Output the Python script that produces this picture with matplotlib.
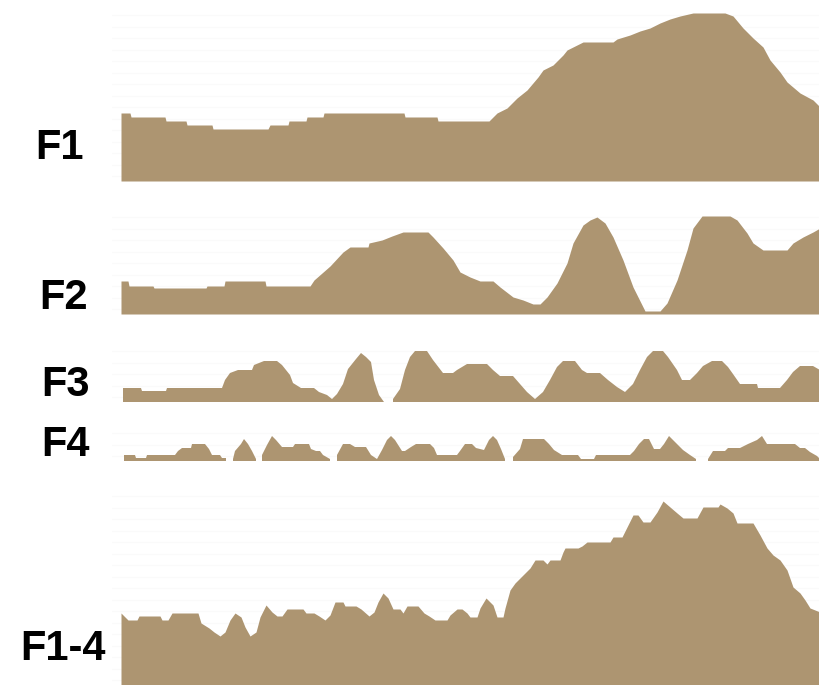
import numpy as np
import matplotlib
matplotlib.use("Agg")
import matplotlib.pyplot as plt

FILL = "#ad9571"

# position along the track (1..700) and profile height for each component
f1_pos = [1, 10, 11, 45, 46, 66, 67, 92, 93, 148, 150, 168, 169, 186, 187, 203, 204, 284,
          285, 317, 318, 369, 377, 387, 397, 407, 418, 423, 433, 443, 447, 457, 463, 493,
          497, 510, 520, 530, 540, 550, 560, 573, 605, 613, 623, 633, 643, 650, 660, 667,
          680, 693, 700]
f1_val = [68, 68, 64, 64, 60, 60, 56, 56, 52, 52, 56, 56, 60, 60, 64, 64, 68, 68,
          64, 64, 60, 60, 68, 73, 83, 91, 104, 111, 116, 126, 131, 136, 139, 139,
          142, 146, 150, 153, 158, 162, 165, 168, 168, 165, 153, 143, 134, 121, 109, 99,
          88, 81, 74]

f2_pos = [1, 8, 9, 33, 34, 86, 87, 104, 105, 145, 146, 190, 194, 202, 210, 223, 230, 248,
          249, 262, 272, 283, 308, 313, 323, 333, 340, 350, 360, 373, 380, 393, 403, 413,
          420, 427, 437, 447, 453, 463, 470, 477, 485, 493, 503, 513, 525, 540, 547, 557,
          567, 573, 582, 610, 617, 627, 633, 643, 667, 673, 683, 693, 700]
f2_val = [33, 33, 28, 28, 26, 26, 28, 28, 33, 33, 28, 28, 34, 41, 48, 62, 67, 67,
          71, 74, 78, 82, 82, 77, 66, 54, 42, 37, 33, 33, 27, 17, 14, 10,
          10, 17, 31, 51, 71, 89, 94, 97, 91, 77, 54, 27, 3, 3, 11, 34,
          64, 86, 98, 98, 94, 81, 71, 64, 64, 71, 77, 82, 86]

# NaN marks a break in the profile
f3_pos = [3, 21, 22, 46, 47, 102, 105, 110, 118, 132, 134, 144, 157, 162, 170, 173, 181,
          194, 199, 207, 212, 217, 223, 228, 236, 241, 246, 251, 254, 259, 264, 268,
          273, 280, 285, 290, 295, 307, 313, 323, 333, 337, 347, 367, 373, 380, 393, 400,
          407, 415, 423, 430, 437, 443, 455, 462, 467, 480, 488, 497, 505, 513, 520, 527,
          533, 543, 548, 557, 562, 570, 577, 583, 592, 602, 608, 613, 620, 637, 638, 660,
          667, 673, 680, 693, 700]
f3_val = [14, 14, 11, 11, 14, 14, 22, 29, 32, 32, 37, 41, 41, 37, 27, 19, 14,
          14, 10, 7, 3, 8, 18, 33, 43, 49, 45, 40, 22, 7, 0, np.nan,
          3, 13, 32, 45, 51, 51, 42, 29, 29, 32, 38, 38, 32, 26, 26, 18,
          10, 3, 10, 22, 35, 41, 41, 32, 29, 29, 22, 15, 10, 18, 32, 45,
          51, 51, 45, 32, 22, 22, 29, 36, 41, 41, 35, 28, 18, 18, 14, 14,
          22, 30, 36, 36, 32]

f4_pos = [4, 15, 16, 26, 27, 55, 58, 62, 71, 72, 85, 89, 92, 100, 102, 106, 109,
          113, 115, 121, 124, 128, 132, 136, 138,
          142, 147, 152, 156, 162, 173, 175, 189, 191, 196, 200, 203, 210, 213,
          217, 223, 230, 235, 246, 251, 257, 262, 267, 271, 275, 282, 285, 291, 296, 310,
          314, 317, 337, 340, 345, 352, 356, 364, 369, 373, 377, 381, 385, 388,
          393, 400, 403, 424, 429, 434, 442, 458, 461, 474, 476, 510, 514, 519, 524, 529,
          534, 540, 544, 549, 557, 563, 570, 576, 582,
          588, 593, 605, 608, 620, 628, 637, 642, 647, 675, 680, 685, 690, 697, 700]
f4_val = [6, 6, 3, 3, 6, 6, 10, 13, 13, 17, 17, 12, 6, 6, 3, 3, np.nan,
          2, 10, 17, 22, 17, 10, 2, np.nan,
          6, 16, 25, 21, 14, 14, 17, 17, 12, 10, 10, 6, 2, np.nan,
          6, 17, 17, 14, 14, 6, 2, 11, 21, 25, 21, 10, 10, 14, 17, 17,
          13, 6, 6, 10, 17, 17, 13, 11, 21, 25, 21, 12, 2, np.nan,
          4, 12, 22, 22, 17, 11, 6, 6, 2, 2, 6, 6, 10, 17, 22, 22,
          12, 12, 17, 25, 17, 11, 6, 2, np.nan,
          2, 10, 10, 13, 13, 17, 21, 25, 17, 17, 13, 13, 9, 5, 2]

f14_pos = [1, 8, 17, 19, 40, 42, 48, 52, 78, 81, 89, 94, 100, 105, 110, 115, 121, 125,
           130, 136, 140, 146, 152, 157, 162, 167, 183, 186, 194, 199, 205, 210, 215, 223,
           225, 236, 241, 249, 254, 258, 263, 268, 273, 280, 283, 287, 298, 304, 309, 315,
           327, 330, 337, 342, 347, 350, 357, 360, 366, 373, 377, 383, 385, 390, 395, 403,
           410, 415, 423, 427, 430, 440, 443, 445, 458, 462, 467, 490, 493, 502, 507, 513,
           518, 523, 530, 537, 543, 550, 557, 563, 577, 583, 598, 600, 607, 613, 617, 633,
           640, 647, 653, 660, 667, 673, 680, 685, 690, 700]
f14_val = [72, 65, 65, 69, 69, 65, 65, 72, 72, 62, 57, 53, 49, 53, 65, 72, 68, 58,
           49, 53, 68, 80, 73, 69, 69, 76, 76, 72, 72, 69, 65, 70, 83, 83,
           79, 79, 76, 69, 73, 83, 92, 87, 76, 76, 72, 79, 79, 72, 69, 65,
           65, 70, 76, 76, 72, 68, 68, 77, 87, 80, 68, 68, 77, 95, 102, 110,
           117, 125, 125, 121, 125, 125, 133, 137, 137, 139, 143, 143, 148, 148, 158, 170,
           170, 163, 163, 173, 184, 178, 172, 167, 167, 178, 178, 181, 177, 172, 162, 162,
           150, 137, 130, 125, 115, 98, 92, 85, 77, 73]

labels = ["F1", "F2", "F3", "F4", "F1-4"]
series = [(f1_pos, f1_val), (f2_pos, f2_val), (f3_pos, f3_val),
          (f4_pos, f4_val), (f14_pos, f14_val)]

W, H = 820, 685
fig = plt.figure(figsize=(W / 100, H / 100), dpi=100)
fig.patch.set_facecolor("white")

# strip extents in pixels: (top, baseline), label right edge and centre
strips = [(10, 181), (210, 314), (345, 402), (430, 461), (495, 685)]
label_at = [(84, 148), (88, 298), (90, 385), (90, 445), (106, 649)]
left, right = 112, 820

for (pos, val), (top, base), name, (lx, ly) in zip(series, strips, labels, label_at):
    ax = fig.add_axes([left / W, 1 - base / H, (right - left) / W, (base - top) / H])
    pos = np.asarray(pos, dtype=float)
    val = np.asarray(val, dtype=float)
    ax.fill_between(pos, 0, val, where=~np.isnan(val), color=FILL, lw=0,
                    interpolate=False, zorder=2)
    ax.set_xlim(-8, 700)
    ax.set_ylim(0, base - top)
    ax.set_yticks(np.arange(5, base - top, 11.5))
    ax.set_xticks([])
    ax.grid(axis="y", color="#fafafa", lw=1, zorder=0)
    ax.tick_params(left=False, labelleft=False)
    for s in ax.spines.values():
        s.set_visible(False)
    fig.text(lx / W, 1 - ly / H, name, ha="right", va="center",
             fontsize=30, fontweight="bold", family="Liberation Sans", color="black")

fig.savefig("out.png", dpi=100, facecolor="white")
